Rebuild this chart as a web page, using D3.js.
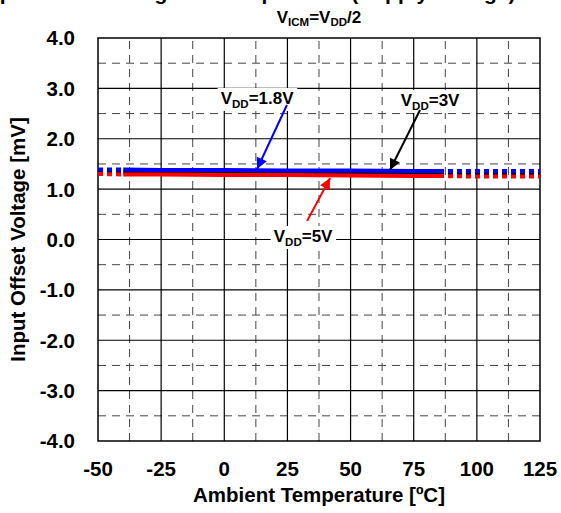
<!DOCTYPE html>
<html>
<head>
<meta charset="utf-8">
<script src="https://cdn.jsdelivr.net/npm/d3@7"></script>
<style>
  body { margin: 0; background: #fff; }
  svg { display: block; font-family: "Liberation Sans", Arial, sans-serif; font-weight: bold; }
</style>
</head>
<body>
<div id="chart"></div>
<script>
const temps = [-50, -40, -25, 0, 25, 50, 75, 85, 100, 125];
const vdd18 = [1.39, 1.39, 1.38, 1.38, 1.37, 1.37, 1.36, 1.36, 1.36, 1.36];
const vdd3 = [1.35, 1.34, 1.34, 1.33, 1.33, 1.32, 1.32, 1.31, 1.31, 1.31];
const vdd5 = [1.30, 1.29, 1.29, 1.28, 1.28, 1.27, 1.26, 1.26, 1.25, 1.25];
const xTicks = [-50, -25, 0, 25, 50, 75, 100, 125];
const yTicks = [4, 3, 2, 1, 0, -1, -2, -3, -4];
const solidRange = [-40, 85];

const seriesNames = ["3V", "5V", "1.8V"];
const seriesColors = ["#000000", "#ff0000", "#0000ff"];
const seriesValues = [vdd3, vdd5, vdd18];

// callouts: label position, arrow start, arrow tip (all in data units)
const callouts = [
  { name: "1.8V", color: "#0000ff", label: [13, 2.69], from: [24.8, 2.67], to: [13, 1.40] },
  { name: "3V", color: "#000000", label: [81.5, 2.65], from: [77.5, 2.57], to: [65.6, 1.38] },
  { name: "5V", color: "#ff0000", label: [31.2, -0.05], from: [32.8, 0.37], to: [41.9, 1.22] }
];

let width = 561, height = 513;
let margin = { top: 38, right: 21, bottom: 72, left: 98 };
let fontSize = '20.5px';

let svg = d3.select('#chart').append('svg')
  .attr('width', width)
  .attr('height', height);

let x = d3.scaleLinear().domain([-50, 125]).range([margin.left, width - margin.right]);
let y = d3.scaleLinear().domain([-4, 4]).range([height - margin.bottom, margin.top]);

// title (cut off by the top of the page, as in the source) and subtitle
svg.append('text')
  .attr('x', -19)
  .attr('y', -0.5)
  .style('font-size', '21px')
  .text('Input Offset Voltage vs. Temperature (Supply Voltage)');

let sub = svg.append('text')
  .attr('x', (x.range()[0] + x.range()[1]) / 2)
  .attr('y', 22.5)
  .attr('text-anchor', 'middle')
  .style('font-size', '17px');
sub.append('tspan').text('V');
sub.append('tspan').attr('dy', 3).style('font-size', '11.5px').text('ICM');
sub.append('tspan').attr('dy', -3).text('=V');
sub.append('tspan').attr('dy', 3).style('font-size', '11.5px').text('DD');
sub.append('tspan').attr('dy', -3).text('/2');

// grid
let grid = svg.append('g').attr('class', 'grid');
let halfX = d3.range(-37.5, 125, 25);
let halfY = d3.range(-3.5, 4, 1);

grid.selectAll('line.hdash').data(halfY).enter().append('line')
  .attr('x1', x.range()[0]).attr('x2', x.range()[1])
  .attr('y1', d => y(d)).attr('y2', d => y(d))
  .attr('stroke', '#444').attr('stroke-width', 1)
  .attr('stroke-dasharray', '8,6');

grid.selectAll('line.vdash').data(halfX).enter().append('line')
  .attr('y1', y.range()[0]).attr('y2', y.range()[1])
  .attr('x1', d => x(d)).attr('x2', d => x(d))
  .attr('stroke', '#444').attr('stroke-width', 1)
  .attr('stroke-dasharray', '8,6');

grid.selectAll('line.hsolid').data(yTicks.slice(1, -1)).enter().append('line')
  .attr('x1', x.range()[0]).attr('x2', x.range()[1])
  .attr('y1', d => y(d)).attr('y2', d => y(d))
  .attr('stroke', '#000').attr('stroke-width', 1.2);

grid.selectAll('line.vsolid').data(xTicks.slice(1, -1)).enter().append('line')
  .attr('y1', y.range()[0]).attr('y2', y.range()[1])
  .attr('x1', d => x(d)).attr('x2', d => x(d))
  .attr('stroke', '#000').attr('stroke-width', 1.2);

svg.append('rect')
  .attr('x', x.range()[0]).attr('y', y.range()[1])
  .attr('width', x.range()[1] - x.range()[0])
  .attr('height', y.range()[0] - y.range()[1])
  .attr('fill', 'none').attr('stroke', '#000').attr('stroke-width', 1.5);

// tick labels (plain hyphen for negatives, as in the source)
svg.selectAll('text.xtick').data(xTicks).enter().append('text')
  .attr('class', 'xtick')
  .attr('x', d => x(d))
  .attr('y', 476)
  .attr('text-anchor', 'middle')
  .style('font-size', fontSize)
  .text(d => String(d));

svg.selectAll('text.ytick').data(yTicks).enter().append('text')
  .attr('class', 'ytick')
  .attr('x', 75)
  .attr('y', d => y(d))
  .attr('dy', '0.36em')
  .attr('text-anchor', 'end')
  .style('font-size', fontSize)
  .text(d => d.toFixed(1));

// axis titles
svg.append('text')
  .attr('x', (x.range()[0] + x.range()[1]) / 2)
  .attr('y', 502)
  .attr('text-anchor', 'middle')
  .style('font-size', fontSize)
  .text('Ambient Temperature [ºC]');

svg.append('text')
  .attr('transform', 'translate(25,' + (y.range()[0] + y.range()[1]) / 2 + ') rotate(-90)')
  .attr('text-anchor', 'middle')
  .style('font-size', fontSize)
  .text('Input Offset Voltage [mV]');

// data lines: solid within spec range, dotted outside
let line = d3.line().x(d => x(d.t)).y(d => y(d.v));

seriesValues.forEach(function(values, i) {
  let pts = temps.map((t, j) => ({ t: t, v: values[j] }));
  let parts = [
    { data: pts.filter(d => d.t <= solidRange[0]), dash: '5,4' },
    { data: pts.filter(d => d.t >= solidRange[0] && d.t <= solidRange[1]), dash: null },
    { data: pts.filter(d => d.t >= solidRange[1]), dash: '5,4' }
  ];
  parts.forEach(function(p) {
    svg.append('path')
      .datum(p.data)
      .attr('d', line)
      .attr('fill', 'none')
      .attr('stroke', seriesColors[i])
      .attr('stroke-width', 4)
      .attr('stroke-dasharray', p.dash);
  });
});

// callouts
let defs = svg.append('defs');
callouts.forEach(function(c, i) {
  defs.append('marker')
    .attr('id', 'arrow' + i)
    .attr('viewBox', '0 0 10 10')
    .attr('refX', 10).attr('refY', 5)
    .attr('markerUnits', 'userSpaceOnUse')
    .attr('markerWidth', 13).attr('markerHeight', 11)
    .attr('orient', 'auto')
    .append('path')
    .attr('d', 'M0,0 L10,5 L0,10 Z')
    .attr('fill', c.color);
});

callouts.forEach(function(c, i) {
  let g = svg.append('g');
  let bg = g.append('rect').attr('fill', '#fff');
  let t = g.append('text')
    .attr('x', x(c.label[0]))
    .attr('y', y(c.label[1]))
    .attr('text-anchor', 'middle')
    .style('font-size', '17px');
  t.append('tspan').text('V');
  t.append('tspan').attr('dy', 4).style('font-size', '11.5px').text('DD');
  t.append('tspan').attr('dy', -4).text('=' + c.name);
  let bb = t.node().getBBox();
  bg.attr('x', bb.x - 3).attr('y', bb.y - 1)
    .attr('width', bb.width + 6).attr('height', bb.height + 2);

  svg.append('line')
    .attr('x1', x(c.from[0])).attr('y1', y(c.from[1]))
    .attr('x2', x(c.to[0])).attr('y2', y(c.to[1]))
    .attr('stroke', c.color)
    .attr('stroke-width', 2)
    .attr('marker-end', 'url(#arrow' + i + ')');
});
</script>
</body>
</html>
